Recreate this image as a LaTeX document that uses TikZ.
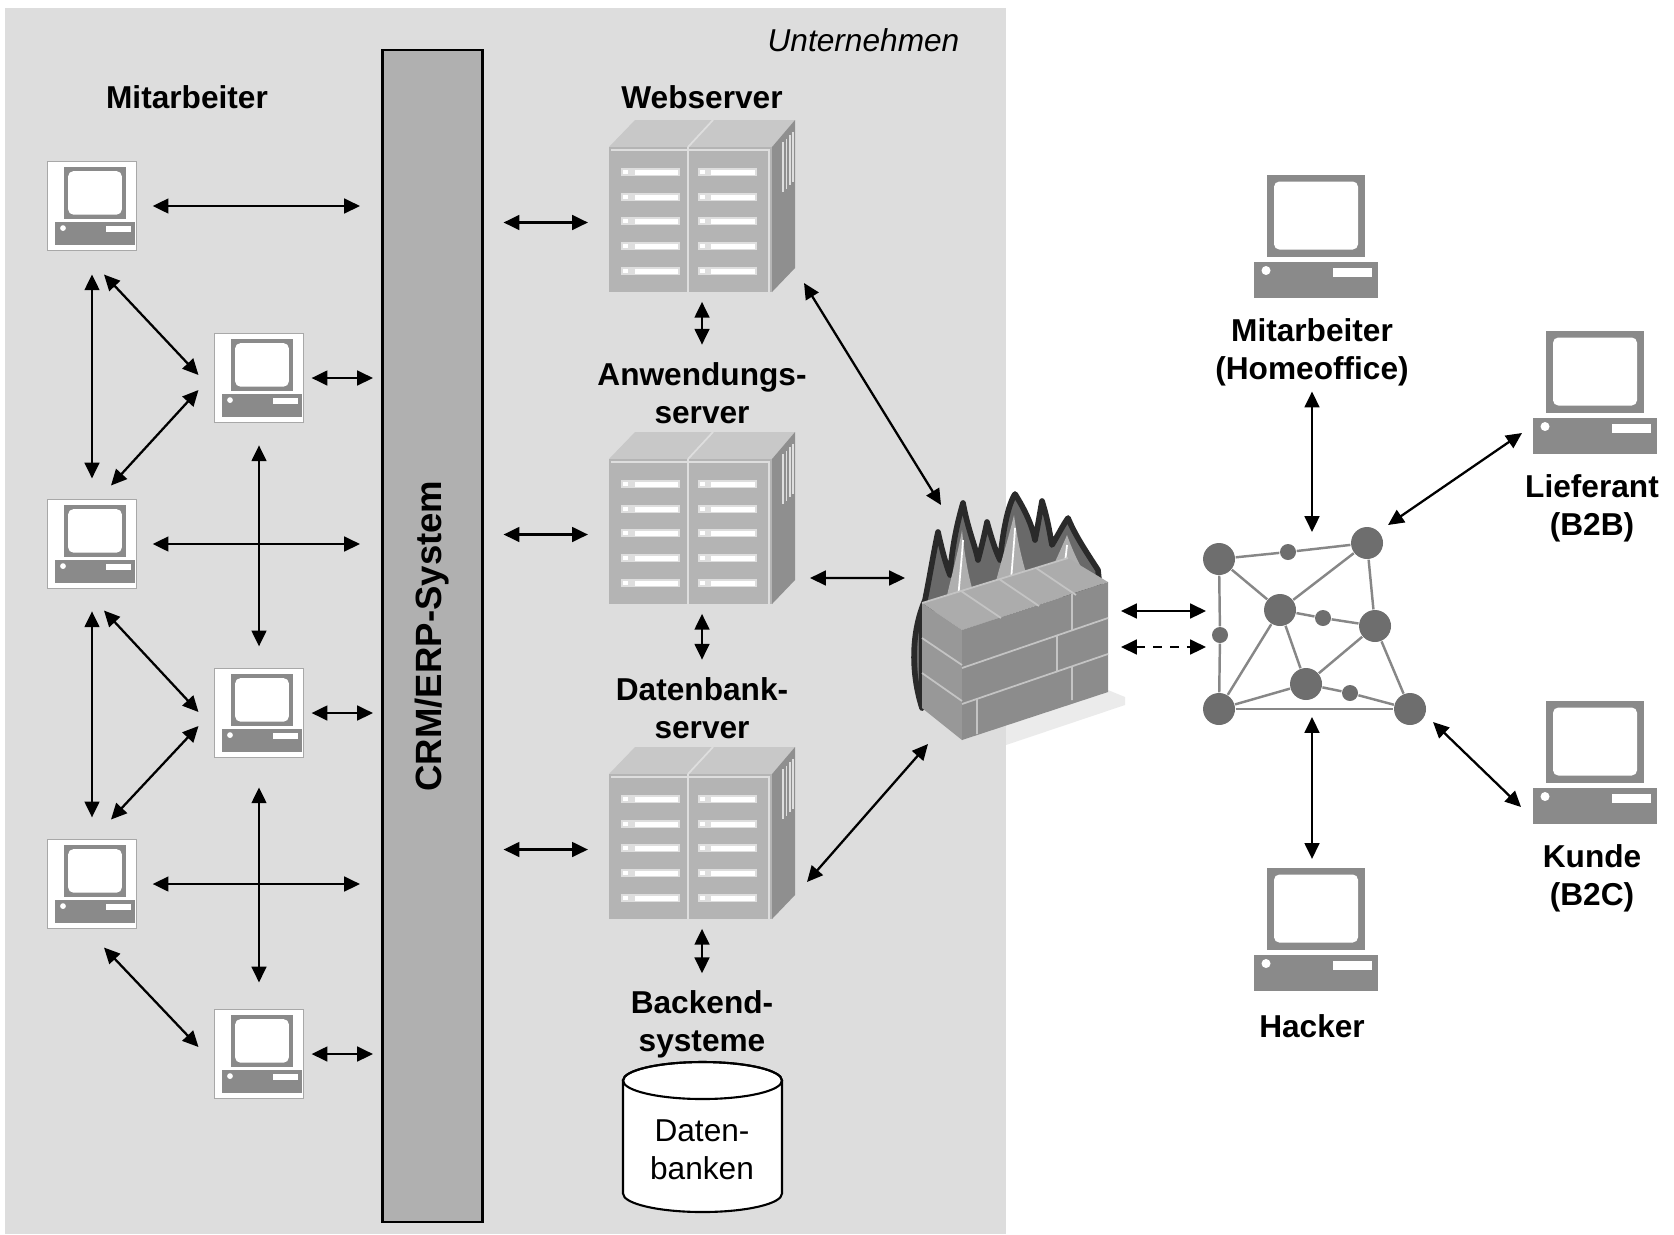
\documentclass[tikz,border=0pt]{standalone}
\usepackage{fontspec}
\setmainfont{Liberation Sans}
\usetikzlibrary{arrows.meta}

% Farben
\definecolor{firmbg}{RGB}{221,221,221}
\definecolor{barfill}{RGB}{176,176,176}
\definecolor{pcgray}{RGB}{138,138,138}
\definecolor{pcframe}{RGB}{168,168,168}
\definecolor{srvfront}{RGB}{180,180,180}
\definecolor{srvtop}{RGB}{200,200,200}
\definecolor{srvside}{RGB}{143,143,143}
\definecolor{srvline}{RGB}{222,222,222}
\definecolor{netgray}{RGB}{110,110,110}
\definecolor{netline}{RGB}{135,135,135}
\definecolor{flamedark}{RGB}{42,42,42}
\definecolor{flamemid}{RGB}{105,105,105}
\definecolor{flamelight}{RGB}{175,175,175}
\definecolor{wallfront}{RGB}{140,140,140}
\definecolor{wallside}{RGB}{152,152,152}
\definecolor{walltop}{RGB}{172,172,172}
\definecolor{mortar}{RGB}{196,196,196}

\tikzset{
  % Rechner-Symbol, Mitte in (0,0)
  pc/.pic={
    \fill[pcgray] (-49,-61.5) rectangle (49,20.5);
    \fill[white, rounded corners=1.5pt] (-42,-54.5) rectangle (42,13.5);
    \fill[pcgray] (-62,25.5) rectangle (62,61.5);
    \fill[white] (-50,34.5) circle (4.5);
    \fill[white] (17,31.5) rectangle (56,40.5);
  },
  % Server-Schrank, Ursprung = linke obere Ecke der Vorderseite
  server/.pic={
    \fill[srvtop] (0,0) -- (26,-27) -- (186,-27) -- (163,0) -- cycle;
    \fill[srvside] (163,0) -- (186,-27) -- (186,121) -- (163,145) -- cycle;
    \fill[srvfront] (0,0) rectangle (163,145);
    \draw[srvline, line width=0.5pt] (79,0) -- (79,145) (79,0) -- (104,-27)
      (2,3) -- (160,3) -- (160,145);
    \foreach \y in {25,50,74,99,124} {
      \fill[srvline] (12,\y-4) rectangle (71,\y+4);
      \fill[srvline] (89,\y-4) rectangle (148,\y+4);
      \fill[white] (14,\y-2) rectangle (19,\y+2);
      \fill[white] (26,\y-2.5) rectangle (69,\y+2.5);
      \fill[white] (91,\y-2) rectangle (96,\y+2);
      \fill[white] (102,\y-2.5) rectangle (146,\y+2.5);
    }
    \foreach \i in {0,1,2,3}
      \draw[srvline, line width=0.5pt] (174+3.4*\i,-5-3.4*\i) -- (174+3.4*\i,45-3.4*\i);
  },
}

\begin{document}
\fontsize{9}{10.9}\selectfont
\begin{tikzpicture}[x=0.1mm, y=-0.1mm,
    both/.style={{Triangle[length=4.5pt,width=4.2pt]}-{Triangle[length=4.5pt,width=4.2pt]}, line width=0.65pt},
    lab/.style={font=\bfseries, align=center, inner sep=0pt},
    pcbox/.style={draw=pcframe, fill=white, line width=0.4pt, minimum width=8.9mm, minimum height=8.9mm, inner sep=0pt, outer sep=0pt},
    pcspot/.style={minimum width=12.4mm, minimum height=12.4mm, inner sep=0pt, outer sep=0pt},
    srvspot/.style={minimum width=16.3mm, minimum height=14.5mm, inner sep=0pt, outer sep=0pt},
    bignet/.style={circle, fill=netgray, minimum size=3.2mm, inner sep=0pt},
    smallnet/.style={circle, fill=netgray, minimum size=1.6mm, inner sep=0pt}]

    \useasboundingbox (0,0) rectangle (1674,1234);

    % ==========================================
    % Unternehmen (grauer Bereich)
    % ==========================================
    \fill[firmbg] (5,7.5) rectangle (1006,1234);
    \node[anchor=east, font=\itshape, inner sep=0pt] (firm) at (960,40) {Unternehmen};

    % CRM/ERP-Balken
    \node[draw, fill=barfill, line width=0.7pt, minimum width=10mm, minimum height=117.2mm, inner sep=0pt] (crm) at (432.3,636) {};
    \node[rotate=90, font=\fontsize{10.4}{12}\selectfont\bfseries] (crmtext) at (crm) {CRM/ERP-System};

    % Mitarbeiter im Haus
    \node[lab] (labmit) at (187,97) {Mitarbeiter};
    \node[pcbox] (p11) at (92,206) {};
    \node[pcbox] (p12) at (92,544) {};
    \node[pcbox] (p13) at (92,884) {};
    \node[pcbox] (p21) at (259,378) {};
    \node[pcbox] (p22) at (259,713) {};
    \node[pcbox] (p23) at (259,1054) {};
    \foreach \p in {p11,p12,p13,p21,p22,p23}
      \pic[scale=0.64] at ([shift={(3,0)}]\p) {pc};

    % Server
    \node[srvspot] (web) at (690.5,219.5) {};
    \node[srvspot] (anw) at (690.5,531.5) {};
    \node[srvspot] (db) at (690.5,846.5) {};
    \foreach \s in {web,anw,db}
      \pic at (\s.north west) {server};

    \node[lab] (labweb) at (702,97) {Webserver};
    \node[lab] (labanw) at (702,393) {Anwendungs-\\server};
    \node[lab] (labdb) at (702,708) {Datenbank-\\server};
    \node[lab] (labbe) at (702,1024) {Backend-\\systeme};

    % Datenbanken (Zylinder)
    \draw[line width=0.6pt, fill=white] (623,1080.5) -- (623,1193.5)
      arc[start angle=180, end angle=0, x radius=79.5, y radius=18.5]
      -- (782,1080.5) arc[start angle=0, end angle=-180, x radius=79.5, y radius=18.5] -- cycle;
    \draw[line width=0.6pt] (702.5,1080.5) ellipse [x radius=79.5, y radius=18.5];
    \node[align=center, inner sep=0pt] (store) at (702,1150) {Daten-\\banken};

    % ==========================================
    % Firewall
    % ==========================================
    \node[minimum width=19.2mm, minimum height=25.5mm, inner sep=0pt, outer sep=0pt] (fw) at (1012,617.5) {};
    % Flammen
    \filldraw[fill=flamemid, draw=flamedark, line width=1.6pt, line join=round]
      (922,708) .. controls (910,670) and (912,630) .. (925,600)
      .. controls (930,575) and (934,550) .. (938,532)
      .. controls (942,550) and (946,565) .. (950,575)
      .. controls (952,545) and (958,520) .. (963,503)
      .. controls (968,530) and (975,545) .. (978,560)
      .. controls (982,545) and (985,532) .. (987,522)
      .. controls (992,540) and (996,552) .. (1000,560)
      .. controls (1003,530) and (1008,505) .. (1015,494)
      .. controls (1025,510) and (1032,525) .. (1035,540)
      .. controls (1038,525) and (1040,512) .. (1042,501)
      .. controls (1048,520) and (1050,535) .. (1052,545)
      .. controls (1058,535) and (1063,525) .. (1068,518)
      .. controls (1075,535) and (1085,550) .. (1098,570)
      -- (1100,590) -- (922,610) -- cycle;
    \fill[flamelight] (945,605) .. controls (950,580) and (956,562) .. (962,530)
      .. controls (965,560) and (970,585) .. (976,600) -- cycle;
    \fill[flamelight] (992,598) .. controls (998,570) and (1006,548) .. (1014,515)
      .. controls (1018,545) and (1024,570) .. (1032,590) -- cycle;
    \fill[flamelight] (1044,588) .. controls (1050,572) and (1058,556) .. (1067,535)
      .. controls (1073,552) and (1080,566) .. (1088,580) -- cycle;
    \draw[white, line width=0.5pt] (958,600) .. controls (960,575) and (962,555) .. (963,540)
      (1010,595) .. controls (1012,565) and (1014,545) .. (1015,528)
      (1062,585) .. controls (1064,570) and (1066,555) .. (1067,545);
    % Schatten
    \fill[black!8] (1006,725) -- (1108,690) -- (1125,697) -- (1125,705) -- (1006,745) -- cycle;
    % Mauer
    \fill[walltop] (922,603) -- (1068,558) -- (1108,582) -- (962,630) -- cycle;
    \fill[wallside] (922,603) -- (962,630) -- (962,740) -- (922,708) -- cycle;
    \fill[wallfront] (962,630) -- (1108,582) -- (1108,692) -- (962,740) -- cycle;
    \draw[mortar, line width=0.5pt]
      (961,591) -- (1001,618) (999,579) -- (1039,606) (1036,568) -- (1076,595)
      (922,603) -- (1068,558)
      (962,668) -- (1108,618) (962,704) -- (1108,654)
      (922,638) -- (962,665) (922,673) -- (962,701)
      (1072,594) -- (1072,630) (1057,636) -- (1057,671)
      (977,699) -- (977,734) (1072,666) -- (1072,700);

    % ==========================================
    % Netz und externe Teilnehmer
    % ==========================================
    \node[minimum width=21.2mm, minimum height=18.5mm, inner sep=0pt, outer sep=0pt] (net) at (1312,624.5) {};
    \node[bignet] (nA) at (1219,559) {};
    \node[bignet] (nB) at (1367,543) {};
    \node[bignet] (nC) at (1280,610) {};
    \node[bignet] (nD) at (1375,626) {};
    \node[bignet] (nE) at (1306,684) {};
    \node[bignet] (nF) at (1219,709) {};
    \node[bignet] (nG) at (1410,709) {};
    \node[smallnet] (sAB) at (1288,552) {};
    \node[smallnet] (sCD) at (1323,618) {};
    \node[smallnet] (sAF) at (1220,635) {};
    \node[smallnet] (sEG) at (1350,693) {};
    \foreach \a/\b in {nA/sAB, sAB/nB, nA/nC, nC/nB, nB/nD, nC/sCD, sCD/nD, nC/nE, nC/nF,
                       nD/nE, nD/nG, nE/sEG, sEG/nG, nE/nF, nF/nG, nA/sAF, sAF/nF}
      \draw[netline, line width=0.7pt] (\a) -- (\b);

    \node[pcspot] (ho) at (1316,236) {};
    \node[pcspot] (lf) at (1595,392) {};
    \node[pcspot] (kd) at (1595,762) {};
    \node[pcspot] (hk) at (1316,929) {};
    \foreach \p in {ho,lf,kd,hk}
      \pic at (\p) {pc};

    \node[lab] (labho) at (1312,352) {Mitarbeiter\\(Homeoffice)};
    \node[lab] (lablf) at (1592,508) {Lieferant\\(B2B)};
    \node[lab] (labkd) at (1592,878) {Kunde\\(B2C)};
    \node[lab] (labhk) at (1312,1026) {Hacker};

    % ==========================================
    % Verbindungen
    % ==========================================
    \foreach \p in {p11,p12,p13}
      \draw[both, shorten <=4.6pt, shorten >=6pt] (\p.east) -- (\p -| crm.west);
    \foreach \p in {p21,p22,p23}
      \draw[both, shorten <=2.3pt, shorten >=2.3pt] (\p.east) -- (\p -| crm.west);

    \draw[both, shorten <=6.8pt, shorten >=6pt] (p11.south) -- (p12.north);
    \draw[both, shorten <=6.5pt, shorten >=6.3pt] (p12.south) -- (p13.north);
    \draw[both, shorten <=6.5pt, shorten >=6.3pt] (p21.south) -- (p22.north);
    \draw[both, shorten <=8.5pt, shorten >=7.7pt] (p22.south) -- (p23.north);

    \draw[both] ([shift={(12,24)}]p11.south) -- ([shift={(-16,-3)}]p21.west);
    \draw[both] ([shift={(-16,12)}]p21.west) -- ([shift={(19,-14)}]p12.north);
    \draw[both] ([shift={(12,22)}]p12.south) -- ([shift={(-16,-1)}]p22.west);
    \draw[both] ([shift={(-16,13)}]p22.west) -- ([shift={(19,-20)}]p13.north);
    \draw[both] ([shift={(12,19)}]p13.south) -- ([shift={(-16,-7)}]p23.west);

    \foreach \s in {web,anw,db}
      \draw[both, shorten <=5.7pt, shorten >=6pt] ([shift={(0,3)}]crm.east |- \s) -- ([shift={(0,3)}]\s.west);

    \draw[both, shorten <=2.8pt, shorten >=4.8pt] (labanw.north |- web.south) -- (labanw.north);
    \draw[both, shorten <=2.8pt, shorten >=4.8pt] (labdb.north |- anw.south) -- (labdb.north);
    \draw[both, shorten <=2.8pt, shorten >=4.6pt] (labbe.north |- db.south) -- (labbe.north);

    \draw[both] ([shift={(32,-9)}]web.south east) -- ([shift={(25,15)}]fw.north west);
    \draw[both] ([shift={(38,-26)}]anw.south east) -- ([shift={(-11,-39.5)}]fw.west);
    \draw[both] ([shift={(35,-37)}]db.south east) -- ([shift={(12,-1)}]fw.south west);
    \draw[both] ([shift={(13,-6.5)}]fw.east) -- ([shift={(0,-13.5)}]net.west);
    \draw[both, dashed, dash pattern=on 2.6pt off 2.2pt] ([shift={(13,29.5)}]fw.east) -- ([shift={(0,22.5)}]net.west);

    \draw[both, shorten <=1.4pt] (labho.south) -- (net.north);
    \draw[both, shorten >=2.3pt] (net.south) -- (net.south |- hk.north);
    \draw[both] ([shift={(21,-18)}]nB.center) -- ([shift={(-11,41)}]lf.west);
    \draw[both] ([shift={(23,13)}]nG.center) -- ([shift={(-12,45)}]kd.west);

\end{tikzpicture}
\end{document}
